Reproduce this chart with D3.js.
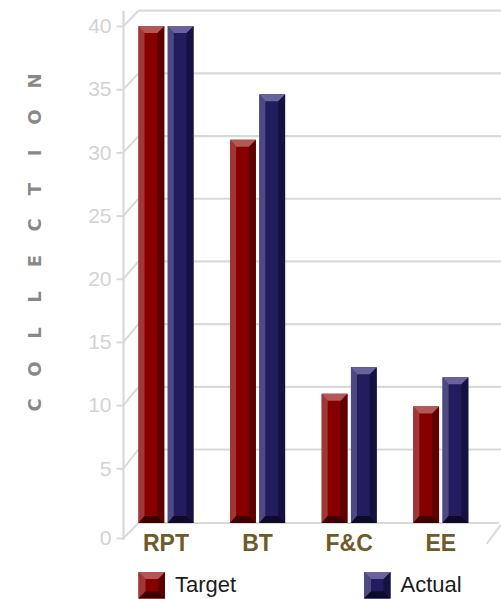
<!DOCTYPE html>
<html>
<head>
<meta charset="utf-8">
<script src="https://cdn.jsdelivr.net/npm/d3@7"></script>
<style>
  html, body { margin: 0; padding: 0; background: #ffffff; }
  svg { display: block; }
</style>
</head>
<body>
<svg id="chart" width="501" height="599"></svg>
<script>
// ---- data ----
const categories = ["RPT", "BT", "F&C", "EE"];
const seriesNames = ["Target", "Actual"];
const targetValues = [40, 31, 10.9, 9.9];
const actualValues = [40, 34.6, 13, 12.2];
const yTickValues = [0, 5, 10, 15, 20, 25, 30, 35, 40];
const axisTitle = "COLLECTION";

// bevelled column colours per series
const palettes = {
  Target: { top: "#b35757", left: "#a13636", mid: "#870000", right: "#5e0000", bottom: "#3f0000" },
  Actual: { top: "#69639b", left: "#4e4981", mid: "#211d5f", right: "#16123f", bottom: "#0d0a2a" }
};

const svg = d3.select("#chart");
const gridColor = "#d9d9d9";
const frontX = 123.5;   // front edge of the 3D plot box
const backX = 138.5;    // back wall

// value scales for the front face and the back wall (slight perspective)
const yFront = d3.scaleLinear().domain([0, 5, 40]).range([538, 468.3, 26]);
const yBack = d3.scaleLinear().domain([0, 5, 40]).range([523, 449.5, 10.7]);

const x = d3.scaleBand().domain(categories).range([120.2, 486.6]);
const xs = d3.scaleBand().domain(seriesNames)
  .range([x.bandwidth() / 2 - 27.5, x.bandwidth() / 2 + 27.5])
  .paddingInner(0.12);

const rows = categories.map((c, i) => ({ cat: c, Target: targetValues[i], Actual: actualValues[i] }));

// ---- back wall grid ----
const grid = svg.append("g");
grid.selectAll("line.h")
  .data(yTickValues.filter(v => v > 0))
  .join("line")
  .attr("x1", backX).attr("x2", 501)
  .attr("y1", d => yBack(d)).attr("y2", d => yBack(d))
  .attr("stroke", gridColor).attr("stroke-width", 2.2);

// floor back edge
grid.append("line")
  .attr("x1", backX).attr("x2", 499)
  .attr("y1", yBack(0)).attr("y2", yBack(0))
  .attr("stroke", gridColor).attr("stroke-width", 2.2);

// depth connectors from the front axis ticks to the back wall
grid.selectAll("line.d")
  .data(yTickValues)
  .join("line")
  .attr("x1", frontX).attr("x2", backX)
  .attr("y1", d => yFront(d)).attr("y2", d => yBack(d))
  .attr("stroke", gridColor).attr("stroke-width", 2);

// right floor corner
grid.append("line")
  .attr("x1", x.range()[1]).attr("x2", x.range()[1] + 14)
  .attr("y1", yFront(0) + 6).attr("y2", yBack(0) + 2)
  .attr("stroke", gridColor).attr("stroke-width", 2);

// front vertical axis line
grid.append("line")
  .attr("x1", frontX).attr("x2", frontX)
  .attr("y1", yBack(40)).attr("y2", yFront(0) + 2)
  .attr("stroke", gridColor).attr("stroke-width", 2.2);

// ---- y axis ticks and labels ----
const yAxis = d3.axisLeft(yFront).tickValues(yTickValues).tickSize(7).tickPadding(5).tickFormat(d3.format("d"));
const yAxisG = svg.append("g").attr("transform", `translate(${frontX},0)`).call(yAxis);
yAxisG.select(".domain").remove();
yAxisG.selectAll(".tick line").attr("stroke", gridColor).attr("stroke-width", 2);
yAxisG.selectAll(".tick text")
  .attr("fill", "#d3d3d3")
  .style("font-family", "'Liberation Sans', Arial, sans-serif")
  .style("font-size", "21px");

// ---- bevelled columns ----
function bevelBox(g, x0, x1, yTop, yBot, p, bl, br, bt, bb) {
  const pts = arr => arr.map(q => q.join(",")).join(" ");
  g.append("rect").attr("x", x0).attr("y", yTop).attr("width", x1 - x0).attr("height", yBot - yTop).attr("fill", p.mid);
  g.append("polygon").attr("points", pts([[x0, yTop], [x0 + bl, yTop + bt], [x0 + bl, yBot - bb], [x0, yBot]])).attr("fill", p.left);
  g.append("polygon").attr("points", pts([[x1, yTop], [x1, yBot], [x1 - br, yBot - bb], [x1 - br, yTop + bt]])).attr("fill", p.right);
  g.append("polygon").attr("points", pts([[x0, yTop], [x1, yTop], [x1 - br, yTop + bt], [x0 + bl, yTop + bt]])).attr("fill", p.top);
  g.append("polygon").attr("points", pts([[x0, yBot], [x0 + bl, yBot - bb], [x1 - br, yBot - bb], [x1, yBot]])).attr("fill", p.bottom);
}

const bars = svg.append("g");
rows.forEach(r => {
  seriesNames.forEach(s => {
    const x0 = x(r.cat) + xs(s);
    const x1 = x0 + xs.bandwidth();
    bevelBox(bars.append("g"), x0, x1, yFront(r[s]), yBack(0), palettes[s], 6, 7, 7, 7);
  });
});

// ---- category labels ----
svg.append("g").selectAll("text")
  .data(categories)
  .join("text")
  .attr("x", d => x(d) + x.bandwidth() / 2)
  .attr("y", 551)
  .attr("text-anchor", "middle")
  .attr("fill", "#6e5b27")
  .style("font-family", "'Liberation Sans', Arial, sans-serif")
  .style("font-weight", "bold")
  .style("font-size", "23px")
  .text(d => d);

// ---- vertical axis title, one spaced letter at a time ----
const letters = axisTitle.split("");
const ly = d3.scalePoint().domain(d3.range(letters.length)).range([405, 81]);
svg.append("g").selectAll("text")
  .data(letters)
  .join("text")
  .attr("transform", (d, i) => `translate(34,${ly(i)}) rotate(-90)`)
  .attr("text-anchor", "middle")
  .attr("dominant-baseline", "central")
  .attr("fill", "#888888")
  .style("font-family", "'DejaVu Sans', Verdana, sans-serif")
  .style("font-weight", "bold")
  .style("font-size", "18px")
  .text(d => d);

// ---- legend ----
const legendX = d3.scaleOrdinal().domain(seriesNames).range([138.5, 364]);
const legend = svg.append("g");
seriesNames.forEach(s => {
  const lx = legendX(s);
  bevelBox(legend.append("g"), lx, lx + 26.5, 572, 598.5, palettes[s], 7, 7, 7, 7);
  legend.append("text")
    .attr("x", lx + 36.5)
    .attr("y", 592)
    .attr("fill", "#1c1c1c")
    .style("font-family", "'Liberation Sans', Arial, sans-serif")
    .style("font-size", "22px")
    .text(s);
});
</script>
</body>
</html>
